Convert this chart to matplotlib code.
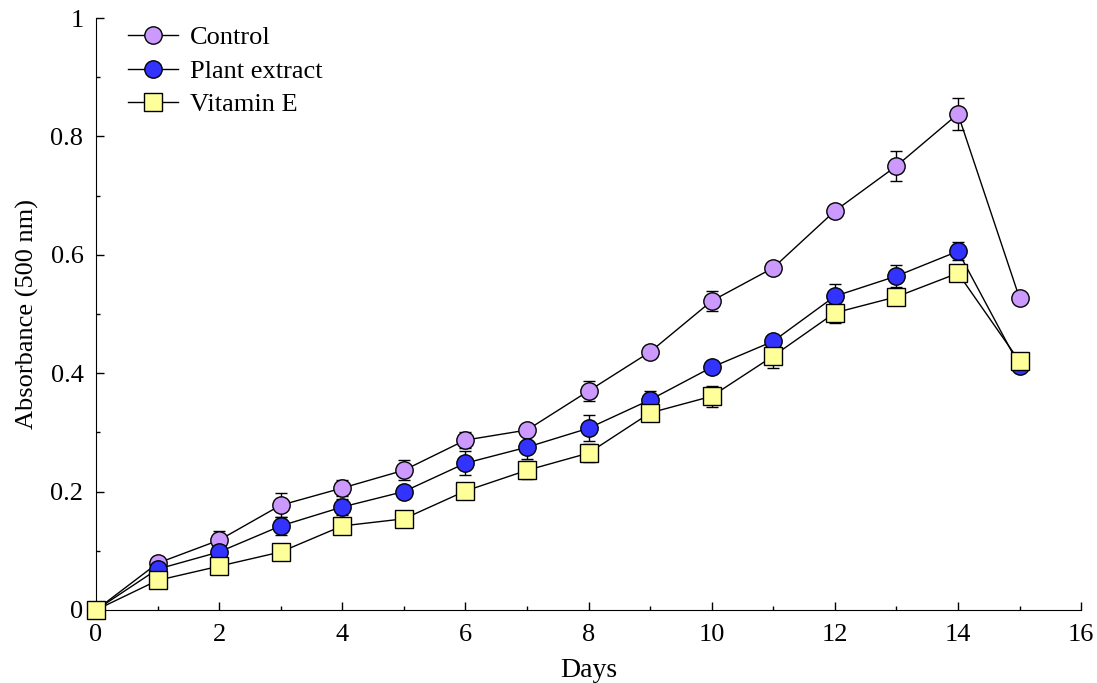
import numpy as np
import matplotlib.pyplot as plt
from matplotlib.ticker import MultipleLocator

days = np.arange(0, 16)
control = [0, 0.079, 0.118, 0.177, 0.206, 0.236, 0.287, 0.304, 0.37, 0.436, 0.522, 0.578, 0.674, 0.75, 0.838, 0.527]
control_err = [0, 0.01, 0.015, 0.02, 0.013, 0.017, 0.013, 0.008, 0.017, 0.008, 0.017, 0.008, 0.007, 0.025, 0.027, 0.008]
plant = [0, 0.069, 0.098, 0.142, 0.174, 0.2, 0.248, 0.275, 0.307, 0.355, 0.41, 0.454, 0.53, 0.564, 0.606, 0.412]
plant_err = [0, 0.01, 0.01, 0.015, 0.013, 0.01, 0.02, 0.02, 0.022, 0.015, 0.01, 0.01, 0.02, 0.018, 0.015, 0.005]
vit_e = [0, 0.05, 0.074, 0.098, 0.142, 0.154, 0.201, 0.236, 0.265, 0.333, 0.361, 0.429, 0.502, 0.529, 0.569, 0.42]
vit_e_err = [0, 0.005, 0.008, 0.005, 0.012, 0.01, 0.01, 0.015, 0.015, 0.01, 0.018, 0.02, 0.017, 0.01, 0.012, 0.005]

plt.rcParams['font.family'] = ['Liberation Serif', 'DejaVu Serif']

fig = plt.figure(figsize=(10.97, 6.83), dpi=100)
ax = fig.add_axes([0.0875, 0.1069, 0.898, 0.8667])

series = [
    (control, control_err, 'Control', 'o', '#cc99ff', 12.5),
    (plant, plant_err, 'Plant extract', 'o', '#3333ff', 12.5),
    (vit_e, vit_e_err, 'Vitamin E', 's', '#ffff99', 13),
]
for vals, err, lab, mk, col, ms in series:
    ax.errorbar(days, vals, yerr=err, color='black', lw=1, elinewidth=1, capsize=4, capthick=1,
                marker=mk, markersize=ms, markerfacecolor=col, markeredgecolor='black',
                markeredgewidth=1, label=lab, clip_on=False, zorder=3)

ax.set_xlim(0, 16)
ax.set_ylim(0, 1)
ax.xaxis.set_major_locator(MultipleLocator(2))
ax.xaxis.set_minor_locator(MultipleLocator(1))
ax.yaxis.set_minor_locator(MultipleLocator(0.1))
ax.set_yticks([0, 0.2, 0.4, 0.6, 0.8, 1.0])
ax.set_yticklabels(['0', '0.2', '0.4', '0.6', '0.8', '1'])
ax.tick_params(which='both', direction='in', labelsize=19, width=1)
ax.tick_params(which='major', length=6)
ax.tick_params(which='minor', length=3)
ax.tick_params(axis='x', pad=10)
ax.tick_params(axis='y', pad=9)
ax.spines['top'].set_visible(False)
ax.spines['right'].set_visible(False)
ax.set_xlabel('Days', fontsize=20, labelpad=9)
ax.set_ylabel('Absorbance (500 nm)', fontsize=19, labelpad=8)

h, l = ax.get_legend_handles_labels()
h = [x[0] for x in h]
ax.legend(h, l, loc='upper left', bbox_to_anchor=(0.008, 1.027), frameon=False, fontsize=19,
          handlelength=1.9, handletextpad=0.45, labelspacing=0.38)

plt.savefig('out.png', dpi=100)
